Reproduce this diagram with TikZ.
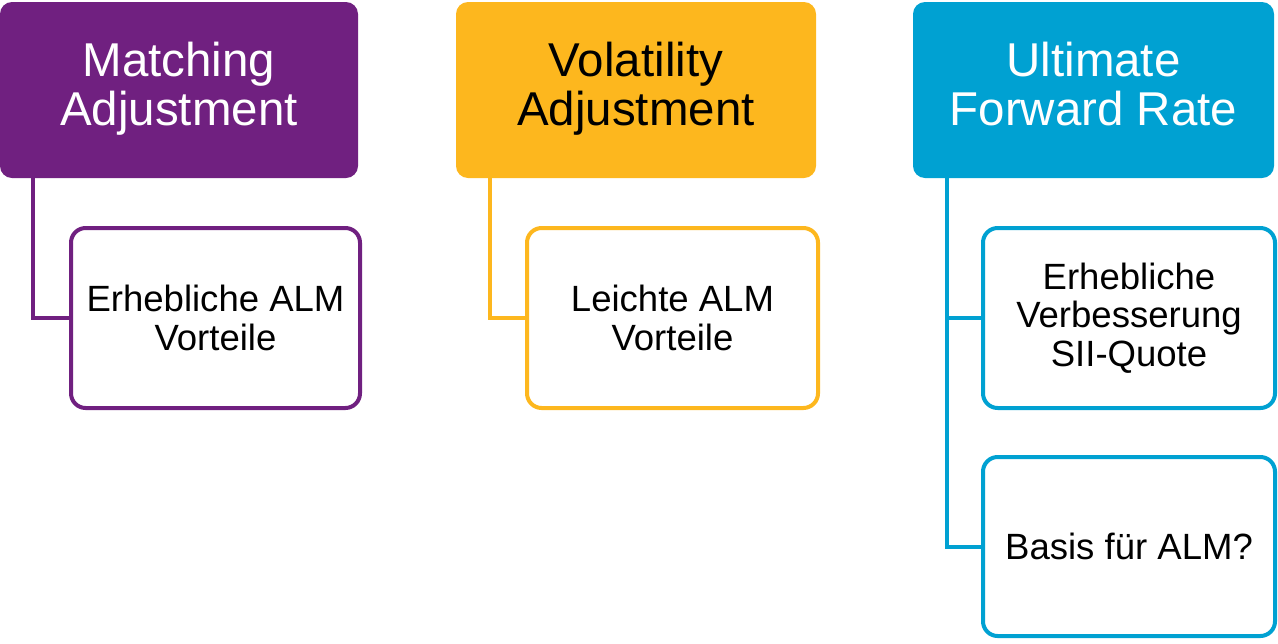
\documentclass[tikz,border=0pt]{standalone}
\usepackage{fontspec}
\setmainfont{Liberation Sans}
\usetikzlibrary{calc}
\definecolor{mapurple}{RGB}{112,32,128}
\definecolor{vaorange}{RGB}{253,183,30}
\definecolor{ufrblue}{RGB}{0,161,210}
\newcommand{\hstr}{\rule[-9pt]{0pt}{33.8pt}}
\begin{document}
\begin{tikzpicture}[x=0.75pt,y=-0.75pt,
  head/.style={rounded corners=9pt, inner sep=0pt, align=center,
    font=\fontsize{35.6}{36.8}\selectfont},
  child/.style={draw, line width=3pt, rounded corners=11pt, fill=white,
    inner sep=0pt, align=center, text=black,
    font=\fontsize{27.4}{29}\selectfont,
    minimum height=135pt},
  link/.style={line width=3pt}
]
\useasboundingbox (0,0) rectangle (1278,643);
% headers
\node[head, fill=mapurple, text=white, minimum width=268.5pt, minimum height=132pt] (h1) at (179,90) {\hstr Matching\\\hstr Adjustment};
\node[head, fill=vaorange, text=black, minimum width=270pt, minimum height=132pt] (h2) at (636,90) {\hstr Volatility\\\hstr Adjustment};
\node[head, fill=ufrblue, text=white, minimum width=270.75pt, minimum height=132pt] (h3) at (1093.5,90) {\hstr Ultimate\\\hstr Forward Rate};
% children
\node[child, draw=mapurple, minimum width=216.75pt] (c1) at (215.5,318) {Erhebliche ALM\\Vorteile};
\node[child, draw=vaorange, minimum width=218.25pt] (c2) at (672.5,318) {Leichte ALM\\Vorteile};
\node[child, draw=ufrblue, minimum width=219pt] (c3a) at (1129,318) {Erhebliche\\Verbesserung\\SII-Quote};
\node[child, draw=ufrblue, minimum width=219pt, minimum height=134.25pt] (c3b) at (1129,546.5) {Basis für ALM?};
% connectors
\coordinate (t1) at ($(h1.south west)+(33,0)$);
\coordinate (t2) at ($(h2.south west)+(34,0)$);
\coordinate (t3) at ($(h3.south west)+(34,0)$);
\draw[link, draw=mapurple] (t1) |- (c1.west);
\draw[link, draw=vaorange] (t2) |- (c2.west);
\draw[link, draw=ufrblue] (t3) |- (c3b.west);
\draw[link, draw=ufrblue] (c3a.west) -| (t3);
\end{tikzpicture}
\end{document}
